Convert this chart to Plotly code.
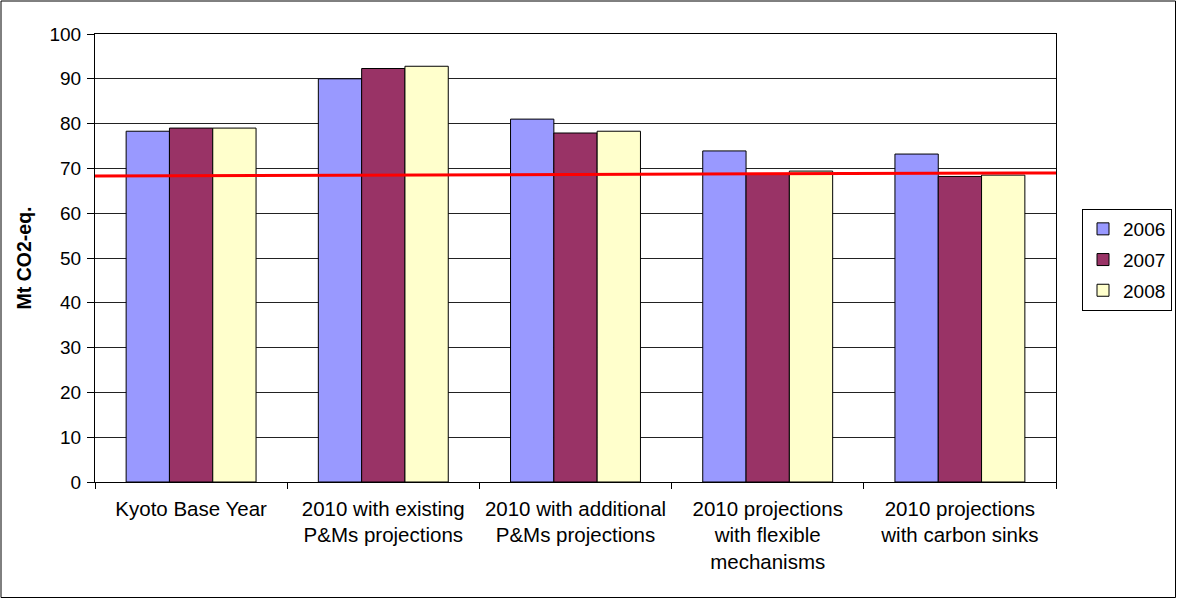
import plotly.graph_objects as go

categories = [
    "Kyoto Base Year",
    "2010 with existing<br>P&Ms projections",
    "2010 with additional<br>P&Ms projections",
    "2010 projections<br>with flexible<br>mechanisms",
    "2010 projections<br>with carbon sinks",
]
series_names = ["2006", "2007", "2008"]
values_2006 = [78.3, 90.0, 81.0, 73.9, 73.2]
values_2007 = [79.0, 92.3, 77.9, 68.8, 68.2]
values_2008 = [79.0, 92.8, 78.3, 69.4, 68.5]
series_values = [values_2006, values_2007, values_2008]
colors = ["#9999FF", "#993366", "#FFFFCC"]

target_x = [-0.002, 1.0094]
target_y = [68.3, 69.0]

y_ticks = [0, 10, 20, 30, 40, 50, 60, 70, 80, 90, 100]

FONT = "Liberation Sans, Arial, sans-serif"

fig = go.Figure()
for name, vals, col in zip(series_names, series_values, colors):
    fig.add_trace(go.Bar(
        x=categories, y=vals, name=name,
        marker=dict(color=col, line=dict(color="black", width=1)),
        legendgroup=name,
    ))

fig.add_trace(go.Scatter(
    x=target_x, y=target_y, xaxis="x2", mode="lines",
    line=dict(color="#FF0000", width=3), showlegend=False,
    cliponaxis=False, hoverinfo="skip",
))

W, H = 1178, 599
L, R, T, B = 95, 122, 34, 117
pw = W - L - R
ph = H - T - B

def px_x(p):
    return (p - L) / pw

def px_y(p):
    return (H - B - p) / ph

fig.update_layout(
    width=W, height=H,
    margin=dict(l=L, r=R, t=T, b=B, autoexpand=False),
    paper_bgcolor="white", plot_bgcolor="white",
    font=dict(family=FONT, size=19, color="black"),
    barmode="group", bargap=0.324, bargroupgap=0,
    showlegend=True,
    legend=dict(
        x=px_x(1082), y=px_y(209), xanchor="left", yanchor="top",
        bordercolor="black", borderwidth=1, bgcolor="white",
        font=dict(size=19, family=FONT), tracegroupgap=3,
        traceorder="grouped",
    ),
    xaxis=dict(
        type="category", tickson="boundaries", ticks="outside", ticklen=6,
        tickcolor="black", showline=True, linecolor="black", linewidth=1,
        mirror=True, showgrid=False, tickfont=dict(size=20.5),
        tickangle=0, ticklabelstandoff=8,
    ),
    xaxis2=dict(
        overlaying="x", range=[0, 1], visible=False, fixedrange=True,
    ),
    yaxis=dict(
        range=[0, 100], tickvals=y_ticks, ticks="outside", ticklen=7,
        tickcolor="black", showline=True, linecolor="black", linewidth=1,
        mirror=True, showgrid=True, gridcolor="#222222", gridwidth=1,
        zeroline=False, tickfont=dict(size=19), ticklabelstandoff=2,
        title=dict(text="<b>Mt CO2-eq.</b>", font=dict(size=19.5), standoff=12),
    ),
    shapes=[dict(
        type="rect", xref="paper", yref="paper",
        x0=px_x(1), x1=px_x(1175.5), y0=px_y(597.5), y1=px_y(1),
        line=dict(color="black", width=1), fillcolor="rgba(0,0,0,0)",
        layer="below",
    )],
)

fig.write_html("out.html")
